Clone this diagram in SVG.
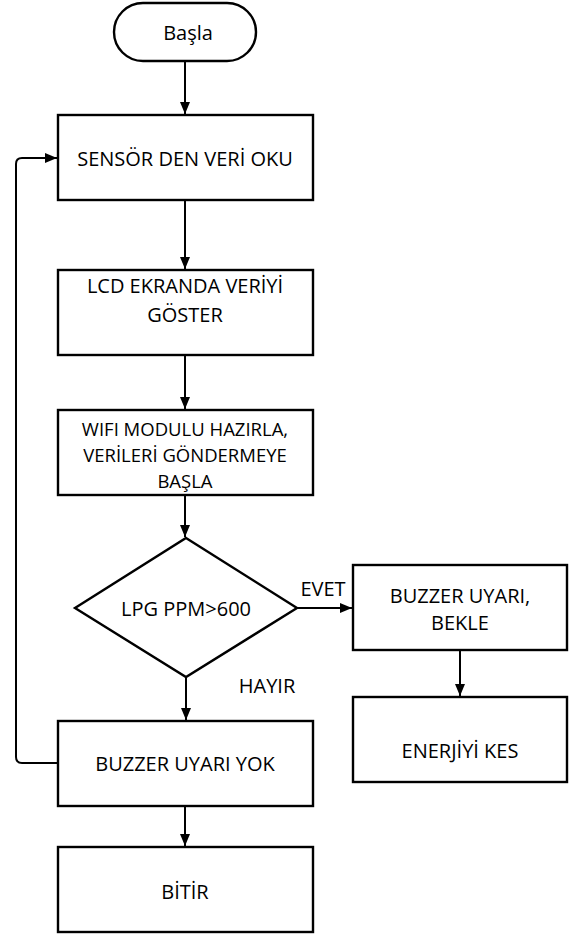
<svg xmlns="http://www.w3.org/2000/svg" width="585" height="938" viewBox="0 0 585 938">
<style>
.n{fill:#fff;stroke:#000;stroke-width:2.4}
.t{font-family:"Open Sans","Liberation Sans",sans-serif;font-size:20px;fill:#000;text-anchor:middle;dominant-baseline:central}
.s{font-size:18.5px}
.c{fill:none;stroke:#000;stroke-width:2}
</style>
<defs>
<marker id="a" viewBox="0 0 12 10" refX="12" refY="5" markerWidth="12" markerHeight="10" markerUnits="userSpaceOnUse" orient="auto">
<path d="M0,0 L12,5 L0,10 Z" fill="#000"/>
</marker>
</defs>
<rect width="585" height="938" fill="#fff"/>
<g id="connectors">
<path class="c" d="M185,61 V114" marker-end="url(#a)"/>
<path class="c" d="M185,200 V269" marker-end="url(#a)"/>
<path class="c" d="M185,355 V409" marker-end="url(#a)"/>
<path class="c" d="M185,495 V537" marker-end="url(#a)"/>
<path class="c" d="M297,608 H352" marker-end="url(#a)"/>
<path class="c" d="M186,677 V720" marker-end="url(#a)"/>
<path class="c" d="M460,650 V696" marker-end="url(#a)"/>
<path class="c" d="M185,806 V846" marker-end="url(#a)"/>
<path class="c" d="M58,763 H22 Q16,763 16,757 V164 Q16,158 22,158 H57" marker-end="url(#a)"/>
</g>
<g id="start">
<rect class="n" x="114" y="3" width="142" height="58" rx="29" ry="29"/>
<text class="t" x="188" y="32">Başla</text>
</g>
<g id="sensor">
<rect class="n" x="58" y="115" width="255" height="85"/>
<text class="t" x="185" y="158">SENSÖR DEN VERİ OKU</text>
</g>
<g id="lcd">
<rect class="n" x="58" y="270" width="255" height="85"/>
<text class="t" x="185" y="285">LCD EKRANDA VERİYİ</text>
<text class="t" x="185" y="314">GÖSTER</text>
</g>
<g id="wifi">
<rect class="n" x="58" y="410" width="255" height="85"/>
<text class="t s" x="185" y="428">WIFI MODULU HAZIRLA,</text>
<text class="t s" x="185" y="454">VERİLERİ GÖNDERMEYE</text>
<text class="t s" x="185" y="480">BAŞLA</text>
</g>
<g id="decision">
<path class="n" d="M186,538 L297,608 L186,677 L75,608 Z"/>
<text class="t" x="186" y="608">LPG PPM&gt;600</text>
</g>
<g id="buzzer">
<rect class="n" x="353" y="565" width="214" height="85"/>
<text class="t" x="460" y="595">BUZZER UYARI,</text>
<text class="t" x="460" y="622">BEKLE</text>
</g>
<g id="enerji">
<rect class="n" x="353" y="697" width="214" height="85"/>
<text class="t" x="460" y="750">ENERJİYİ KES</text>
</g>
<g id="noalarm">
<rect class="n" x="58" y="721" width="255" height="85"/>
<text class="t" x="185" y="763">BUZZER UYARI YOK</text>
</g>
<g id="end">
<rect class="n" x="58" y="847" width="255" height="85"/>
<text class="t" x="185" y="891">BİTİR</text>
</g>
<g id="labels">
<text class="t" x="323" y="588">EVET</text>
<text class="t" x="267" y="685">HAYIR</text>
</g>
</svg>
